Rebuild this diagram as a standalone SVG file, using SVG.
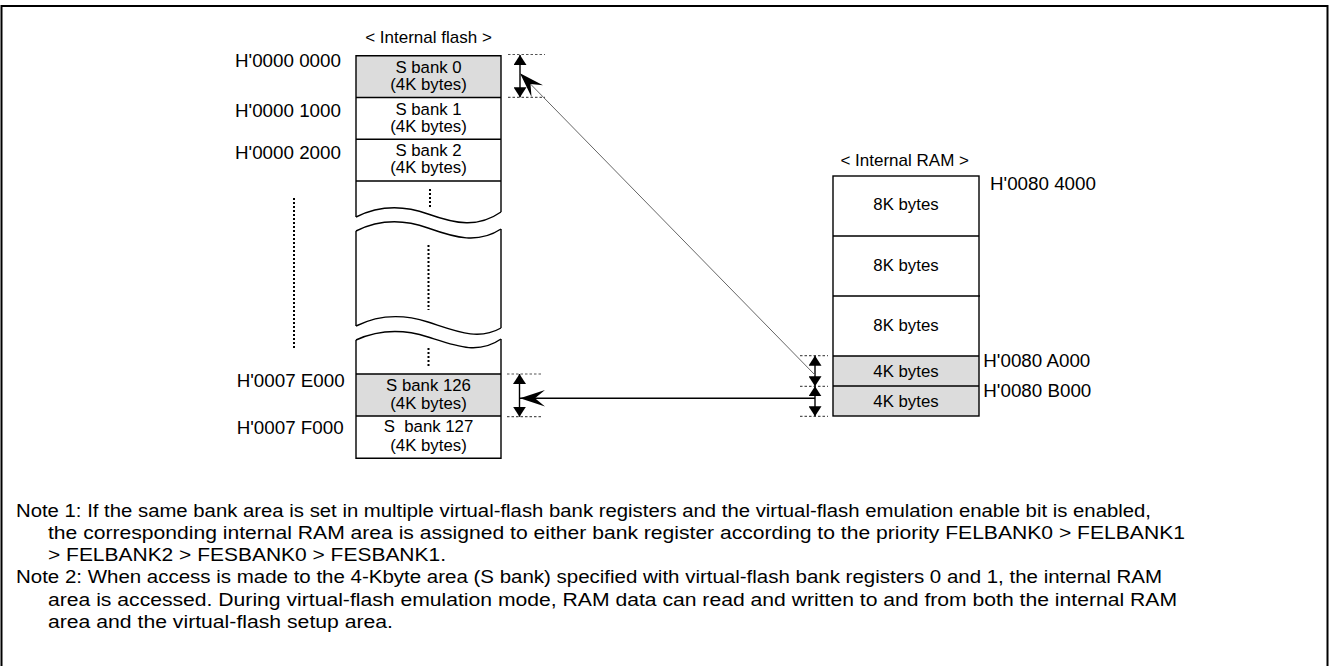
<svg xmlns="http://www.w3.org/2000/svg" width="1333" height="666" viewBox="0 0 1333 666">
<style>
text{font-family:"Liberation Sans",Arial,sans-serif;fill:#000}
.hdr{font-size:17px;text-anchor:middle}
.addr{font-size:18.8px}
.lbl{font-size:16.8px;text-anchor:middle}
.note{font-size:17.5px}
.box{fill:none;stroke:#000;stroke-width:1.4}
.gray{fill:#dcdcdc;stroke:none}
.dots{stroke:#000;stroke-width:2;stroke-dasharray:2 2;fill:none}
.guide{stroke:#555;stroke-width:1.2;stroke-dasharray:2.5 2;fill:none}
.dim{stroke:#000;stroke-width:1.4;fill:none;marker-start:url(#tri);marker-end:url(#tri)}
</style>
<defs>
<marker id="tri" viewBox="0 0 10 13" refX="10" refY="6.5" markerWidth="10" markerHeight="13" markerUnits="userSpaceOnUse" orient="auto-start-reverse" preserveAspectRatio="none">
<path d="M0,0 L10,6.5 L0,13 z" fill="#000"/>
</marker>
<marker id="barb" viewBox="0 0 25 16.6" refX="25" refY="8.3" markerWidth="25" markerHeight="16.6" markerUnits="userSpaceOnUse" orient="auto">
<path d="M0,0 L25,8.3 L0,16.6 L10,8.3 z" fill="#000"/>
</marker>
</defs>
<rect x="1.5" y="6" width="1326" height="700" fill="none" stroke="#000" stroke-width="2"/>

<g id="flash-title"><text class="hdr" x="428.5" y="42.5">&lt; Internal flash &gt;</text></g>

<g id="flash-addresses">
<text class="addr" x="235" y="66.7">H'0000 0000</text>
<text class="addr" x="235" y="117.3">H'0000 1000</text>
<text class="addr" x="235" y="159.3">H'0000 2000</text>
<text class="addr" x="236.7" y="386.7">H'0007 E000</text>
<text class="addr" x="236.7" y="434">H'0007 F000</text>
</g>

<g id="bank0">
<rect class="gray" x="356" y="55.7" width="145" height="41.8"/>
<text class="lbl" x="428.5" y="72.7">S bank 0</text>
<text class="lbl" x="428.5" y="89.5">(4K bytes)</text>
</g>
<g id="bank1">
<text class="lbl" x="428.5" y="114.5">S bank 1</text>
<text class="lbl" x="428.5" y="131.5">(4K bytes)</text>
</g>
<g id="bank2">
<text class="lbl" x="428.5" y="156.3">S bank 2</text>
<text class="lbl" x="428.5" y="173.3">(4K bytes)</text>
</g>
<g id="bank126">
<rect class="gray" x="356" y="374" width="145" height="42"/>
<text class="lbl" x="428.5" y="390.5">S bank 126</text>
<text class="lbl" x="428.5" y="409">(4K bytes)</text>
</g>
<g id="bank127">
<text class="lbl" x="428.5" y="432" xml:space="preserve">S  bank 127</text>
<text class="lbl" x="428.5" y="451">(4K bytes)</text>
</g>

<g id="flash-outline">
<path class="box" d="M356,217 V55.7 H501 V212"/>
<path class="box" d="M356,97.5 H501 M356,139.3 H501 M356,181 H501"/>
<path class="box" d="M356,217 C376,207 400,204 428,214 S478,228 501,212"/>
<path class="box" d="M356,231 C376,221 400,218 428,228 S478,244 501,229"/>
<path class="box" d="M356,231 V326 M501,229 V328"/>
<path class="box" d="M356,326 C376,316 400,313 428,322 S478,341 501,328"/>
<path class="box" d="M356,340 C376,331 400,328 428,337 S478,355 501,339"/>
<path class="box" d="M356,340 V458.3 H501 V339"/>
<path class="box" d="M356,374 H501 M356,416 H501"/>
<path class="dots" d="M430,189 V208 M428.5,245 V310 M428.5,348 V367"/>
<path class="dots" d="M294,198 V348"/>
</g>

<g id="ram-title"><text class="hdr" x="904.7" y="166">&lt; Internal RAM &gt;</text></g>

<g id="ram">
<rect class="gray" x="833" y="356" width="146" height="60"/>
<rect class="box" x="833" y="176" width="146" height="240"/>
<path class="box" d="M833,236 H979 M833,296 H980 M833,356 H979 M833,386 H979"/>
<text class="lbl" x="906" y="209.5">8K bytes</text>
<text class="lbl" x="906" y="271">8K bytes</text>
<text class="lbl" x="906" y="331">8K bytes</text>
<text class="lbl" x="906" y="377.3">4K bytes</text>
<text class="lbl" x="906" y="406.7">4K bytes</text>
</g>

<g id="ram-addresses">
<text class="addr" x="990" y="190">H'0080 4000</text>
<text class="addr" x="983.3" y="366.7">H'0080 A000</text>
<text class="addr" x="983.3" y="396.7">H'0080 B000</text>
</g>

<g id="connectors">
<path class="guide" d="M508,54.5 H545 M508,97.3 H545"/>
<path class="guide" d="M507,374 H543 M507,416.7 H543"/>
<path class="guide" d="M800,355.7 H828 M800,386.3 H828 M800,416.3 H828"/>
<line class="dim" x1="520" y1="55" x2="520" y2="97.3"/>
<line class="dim" x1="519.5" y1="374" x2="519.5" y2="416.7"/>
<line class="dim" x1="815" y1="355.7" x2="815" y2="386.3"/>
<line class="dim" x1="815" y1="386.3" x2="815" y2="416.3"/>
<line x1="815" y1="375" x2="520" y2="73.3" stroke="#666" stroke-width="1" marker-end="url(#barb)"/>
<line x1="815" y1="398.3" x2="520" y2="398.3" stroke="#000" stroke-width="1.4" marker-end="url(#barb)"/>
</g>

<g id="notes">
<text class="note" x="16" y="516.5" textLength="1135" lengthAdjust="spacingAndGlyphs">Note 1: If the same bank area is set in multiple virtual-flash bank registers and the virtual-flash emulation enable bit is enabled,</text>
<text class="note" x="48" y="538.8" textLength="1137" lengthAdjust="spacingAndGlyphs">the corresponding internal RAM area is assigned to either bank register according to the priority FELBANK0 &gt; FELBANK1</text>
<text class="note" x="48" y="561.1" textLength="398" lengthAdjust="spacingAndGlyphs">&gt; FELBANK2 &gt; FESBANK0 &gt; FESBANK1.</text>
<text class="note" x="16" y="583.4" textLength="1146" lengthAdjust="spacingAndGlyphs">Note 2: When access is made to the 4-Kbyte area (S bank) specified with virtual-flash bank registers 0 and 1, the internal RAM</text>
<text class="note" x="48" y="605.7" textLength="1129" lengthAdjust="spacingAndGlyphs">area is accessed. During virtual-flash emulation mode, RAM data can read and written to and from both the internal RAM</text>
<text class="note" x="48" y="628" textLength="345" lengthAdjust="spacingAndGlyphs">area and the virtual-flash setup area.</text>
</g>
</svg>
